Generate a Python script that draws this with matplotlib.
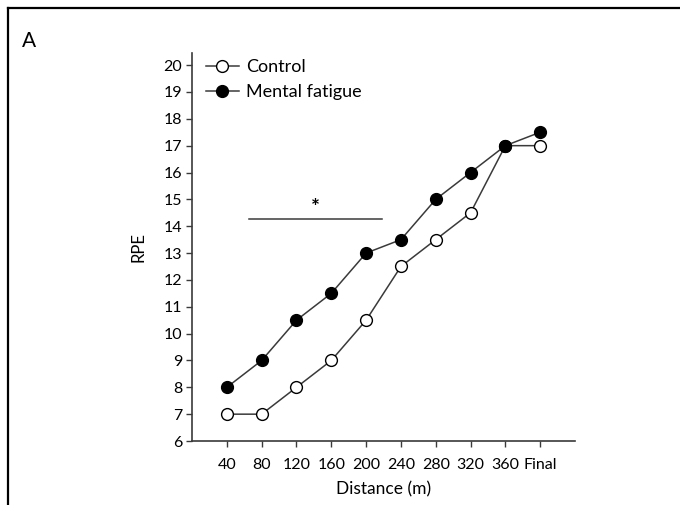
import matplotlib
matplotlib.use("Agg")
import matplotlib.pyplot as plt
from matplotlib.lines import Line2D

plt.rcParams["font.family"] = ["Lato", "DejaVu Sans"]

# data
distance_labels = ["40", "80", "120", "160", "200", "240", "280", "320", "360", "Final"]
rpe_control = [7, 7, 8, 9, 10.5, 12.5, 13.5, 14.5, 17, 17]
rpe_fatigue = [8, 9, 10.5, 11.5, 13, 13.5, 15, 16, 17, 17.5]
y_ticks = list(range(6, 21))
sig_span = (1.63, 5.47)
sig_level = 14.27

x = list(range(1, len(distance_labels) + 1))
line_col = "#3a3a3a"

fig = plt.figure(figsize=(6.8, 5.05), dpi=100)
ax = fig.add_axes([0.2824, 0.1267, 0.5632, 0.7683])

ax.plot(x, rpe_control, color=line_col, lw=1.1, marker="o", ms=8.5,
        mfc="white", mec="black", mew=1.0, label="Control", zorder=3)
ax.plot(x, rpe_fatigue, color=line_col, lw=1.1, marker="o", ms=8.5,
        mfc="black", mec="black", mew=1.0, label="Mental fatigue", zorder=4)

# significance bar
ax.plot(sig_span, [sig_level, sig_level], color=line_col, lw=1.1)
ax.text(sum(sig_span) / 2, sig_level + 0.05, "*", ha="center", va="bottom",
        fontsize=15, fontweight="bold")

ax.set_xlim(0, 11)
ax.set_ylim(6, 20.45)
ax.set_xticks(x)
ax.set_xticklabels(distance_labels)
ax.set_yticks(y_ticks)

for s in ["top", "right"]:
    ax.spines[s].set_visible(False)
for s in ["left", "bottom"]:
    ax.spines[s].set_color(line_col)
    ax.spines[s].set_linewidth(1.2)
ax.tick_params(axis="both", direction="out", length=4, width=1, color=line_col,
               labelsize=11.5, pad=3)
ax.tick_params(axis="x", pad=8)

ax.set_xlabel("Distance (m)", fontsize=12.5, labelpad=7)
ax.set_ylabel("RPE", fontsize=12, labelpad=12)

ax.legend(loc="upper left", bbox_to_anchor=(0.303, 0.883), bbox_transform=fig.transFigure,
          frameon=False, fontsize=13, handlelength=1.8, handletextpad=0.4,
          labelspacing=0.5, borderaxespad=0, borderpad=0)

fig.text(0.032, 0.918, "A", fontsize=15, ha="left", va="center")

# outer panel frame (top and left edges)
fig.add_artist(Line2D([0.012, 1.0], [0.984, 0.984], color="black", lw=1.6,
                      transform=fig.transFigure))
fig.add_artist(Line2D([0.012, 0.012], [0.0, 0.984], color="black", lw=1.6,
                      transform=fig.transFigure))

fig.savefig("out.png", dpi=100)
